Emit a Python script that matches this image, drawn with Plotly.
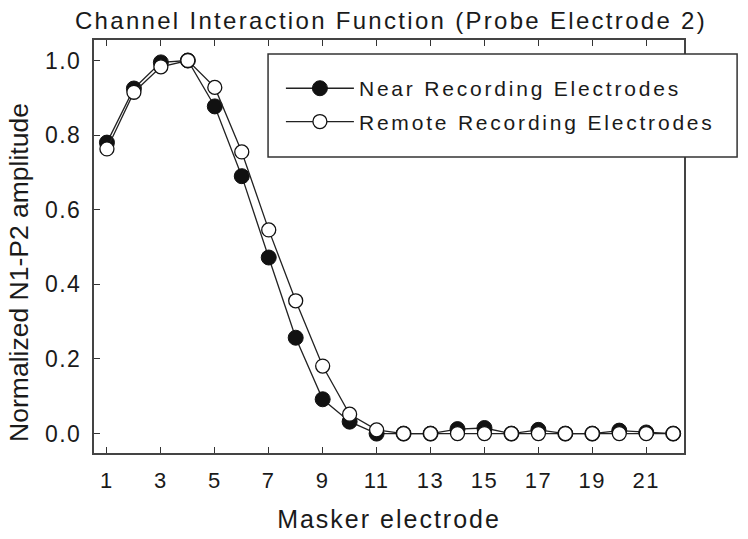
import plotly.graph_objects as go

# Masker electrode positions
masker = list(range(1, 23))

# Normalized N1-P2 amplitude
near = [0.78, 0.925, 0.995, 1.0, 0.877, 0.69, 0.472, 0.257, 0.092, 0.032, 0.0,
        0.0, 0.0, 0.012, 0.015, 0.0, 0.01, 0.0, 0.0, 0.008, 0.003, 0.0]
remote = [0.763, 0.915, 0.983, 1.0, 0.928, 0.755, 0.546, 0.356, 0.181, 0.052, 0.01,
          0.0, 0.0, 0.0, 0.0, 0.0, 0.0, 0.0, 0.0, 0.0, 0.0, 0.0]

x_ticks = [1, 3, 5, 7, 9, 11, 13, 15, 17, 19, 21]
y_ticks = [0.0, 0.2, 0.4, 0.6, 0.8, 1.0]

font_family = "Liberation Sans, Arial, sans-serif"
ink = "#1a1a1a"
frame = "#444444"

fig = go.Figure()

fig.add_trace(go.Scatter(
    x=masker, y=near,
    mode="lines+markers",
    name="Near Recording Electrodes",
    legendgroup="near",
    line=dict(color="#222222", width=1.3),
    marker=dict(symbol="circle", size=15, color="#111111",
                line=dict(color="#111111", width=1)),
))

fig.add_trace(go.Scatter(
    x=masker, y=remote,
    mode="lines+markers",
    name="Remote Recording Electrodes",
    legendgroup="remote",
    line=dict(color="#222222", width=1.3),
    marker=dict(symbol="circle", size=14, color="white",
                line=dict(color="#111111", width=1.3)),
))

# legend frame (drawn separately so it can be sized like the original)
fig.add_shape(
    type="rect", xref="paper", yref="paper",
    x0=0.295, x1=1.09, y0=0.717, y1=0.966,
    line=dict(color="#333333", width=1.5),
    fillcolor="white", layer="above",
)

fig.update_layout(
    width=748,
    height=539,
    paper_bgcolor="white",
    plot_bgcolor="white",
    margin=dict(l=86, r=72, t=32, b=94),
    font=dict(family=font_family, size=22, color=ink),
    title=dict(
        text="Channel Interaction Function (Probe Electrode 2)",
        x=0.512, xanchor="center", y=0.976, yanchor="middle",
        font=dict(size=24, color=ink),
    ),
    showlegend=True,
    legend=dict(
        x=0.3168, xanchor="left",
        y=0.932, yanchor="top",
        bgcolor="rgba(0,0,0,0)",
        borderwidth=0,
        font=dict(size=21, color=ink),
        itemwidth=68,
        tracegroupgap=3,
    ),
)

fig.update_xaxes(
    range=[0.52, 22.4],
    tickvals=x_ticks,
    ticks="inside",
    ticklen=6,
    tickwidth=1.2,
    tickcolor="#333333",
    showline=True,
    linecolor=frame,
    linewidth=2,
    mirror="ticks",
    showgrid=False,
    zeroline=False,
    automargin=False,
    ticklabelstandoff=7,
    tickfont=dict(size=22),
    title=dict(text="Masker electrode", font=dict(size=25), standoff=18),
)

fig.update_yaxes(
    range=[-0.052, 1.055],
    tickvals=y_ticks,
    tickformat=".1f",
    ticks="inside",
    ticklen=6,
    tickwidth=1.2,
    tickcolor="#333333",
    showline=True,
    linecolor=frame,
    linewidth=2,
    mirror=True,
    showgrid=False,
    zeroline=False,
    automargin=False,
    ticklabelstandoff=6,
    tickfont=dict(size=23),
    title=dict(text="Normalized N1-P2 amplitude", font=dict(size=26.5), standoff=22),
)

# the original lettering is widely tracked; the legend clip box is
# computed before that, so drop it; nudge the y title down to sit
# level with the axis like in the original
spacing = """
var gd = document.getElementById('{plot_id}');
function track(sel, px) {
  gd.querySelectorAll(sel).forEach(function (t) { t.style.letterSpacing = px; });
}
track('.gtitle', '2.3px');
track('.legendtext', '2.8px');
track('.xtitle', '2px');
track('.xtick text, .ytick text', '1.5px');
gd.querySelectorAll('.legend [clip-path]').forEach(function (el) {
  el.removeAttribute('clip-path');
});
gd.querySelectorAll('.ytitle').forEach(function (t) {
  t.setAttribute('transform', 'translate(-4,26) ' + (t.getAttribute('transform') || ''));
});
"""

fig.write_html("out.html", post_script=spacing)
